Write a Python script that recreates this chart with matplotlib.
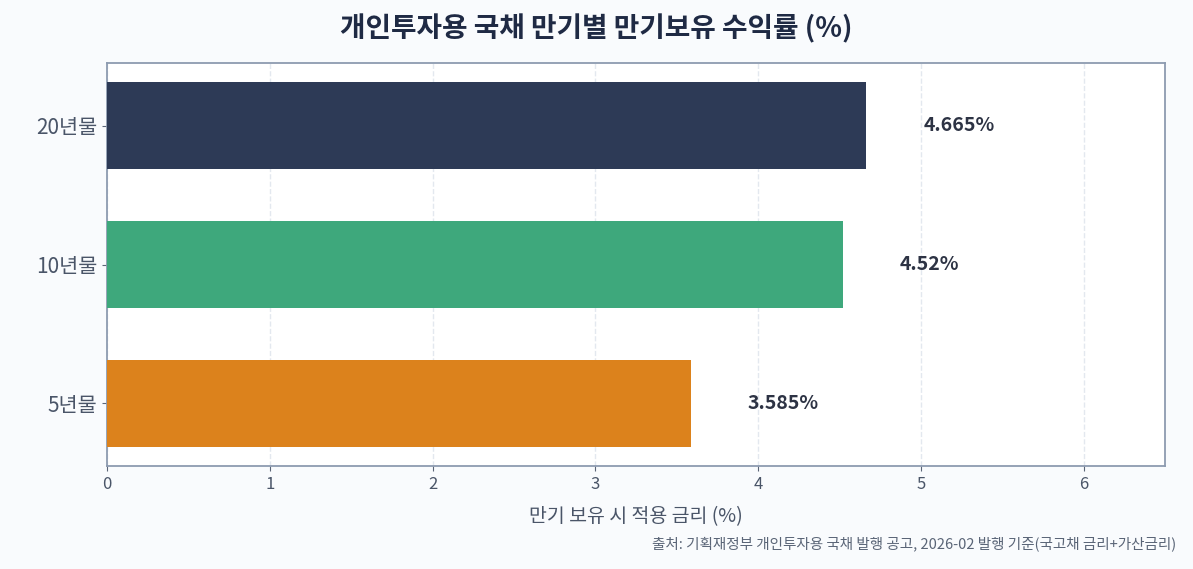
import matplotlib.pyplot as plt

plt.rcParams['font.family'] = ['Noto Sans CJK KR', 'DejaVu Sans']

categories = ['5년물', '10년물', '20년물']
rates = [3.585, 4.52, 4.665]
labels = ['3.585%', '4.52%', '4.665%']
colors = ['#dc821c', '#3ea87c', '#2d3a56']

bg = '#f9fbfd'
fig = plt.figure(figsize=(11.93, 5.69), dpi=100, facecolor=bg)
ax = fig.add_axes([107 / 1193, 1 - 466 / 569, (1165 - 107) / 1193, (466 - 63) / 569])
ax.set_facecolor('white')

ax.barh(categories, rates, height=0.63, color=colors, zorder=3)
for i, (v, t) in enumerate(zip(rates, labels)):
    ax.text(v + 0.35, i, t, va='center', ha='left', fontsize=14,
            fontweight='bold', color='#2d3344')

ax.set_xlim(0, 6.5)
ax.set_ylim(-0.45, 2.45)
ax.grid(axis='x', linestyle='--', color='#e3e8ef', linewidth=1, zorder=0)
for s in ax.spines.values():
    s.set_color('#8d9bb0')
    s.set_linewidth(1.3)
ax.tick_params(axis='x', labelsize=12, colors='#5a6577')
ax.tick_params(axis='y', labelsize=15, colors='#5a6577')
for lab in ax.get_xticklabels() + ax.get_yticklabels():
    lab.set_color('#4a5568')
ax.set_xlabel('만기 보유 시 적용 금리 (%)', fontsize=14, color='#4a5568', labelpad=10)

fig.suptitle('개인투자용 국채 만기별 만기보유 수익률 (%)', fontsize=20,
             fontweight='bold', color='#1f2a44', y=0.975)
fig.text(0.986, 0.045, '출처: 기획재정부 개인투자용 국채 발행 공고, 2026-02 발행 기준(국고채 금리+가산금리)',
         ha='right', va='center', fontsize=10.5, color='#5a6577')

fig.savefig('out.png', dpi=100, facecolor=bg)
